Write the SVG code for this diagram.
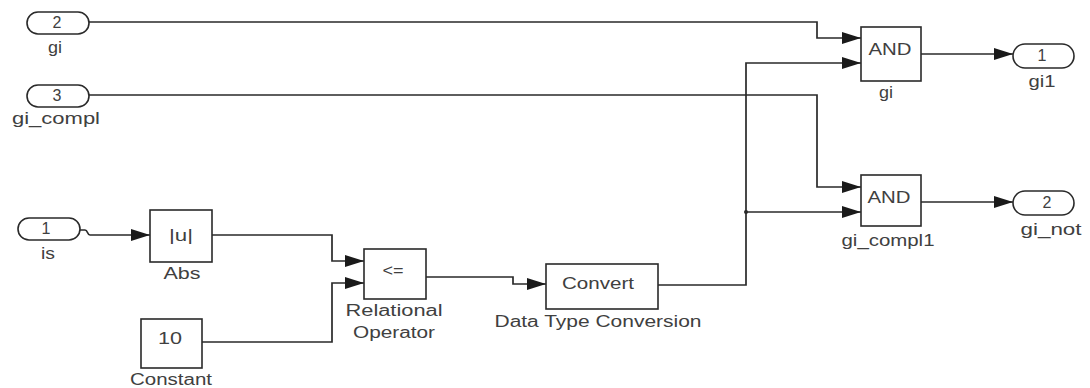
<svg xmlns="http://www.w3.org/2000/svg" width="1090" height="388" viewBox="0 0 1090 388">
  <style>
    .blk { fill: #ffffff; stroke: #2a2a2a; stroke-width: 1.6; }
    .port { fill: #ffffff; stroke: #2a2a2a; stroke-width: 1.6; }
    .wire { fill: none; stroke: #2a2a2a; stroke-width: 1.7; }
    .txt { font-family: "Liberation Sans", Arial, sans-serif; font-size: 16px; fill: #404040; text-anchor: middle; dominant-baseline: central; }
  </style>
  <defs>
    <marker id="arrow" markerUnits="userSpaceOnUse" markerWidth="19" markerHeight="12" refX="19" refY="6" orient="auto">
      <path d="M0,0 L19,6 L0,12 Z" fill="#1a1a1a"/>
    </marker>
  </defs>
  <rect width="1090" height="388" fill="#ffffff"/>

  <!-- signal lines -->
  <g id="connectors">
    <path class="wire" d="M89,22 H817 V38 H861" marker-end="url(#arrow)"/>
    <path class="wire" d="M89,95 H817 V187 H861" marker-end="url(#arrow)"/>
    <path class="wire" d="M658,285 H746 V63 H861" marker-end="url(#arrow)"/>
    <path class="wire" d="M746,212 H861" stroke="#555555" marker-end="url(#arrow)"/>
    <circle cx="746" cy="212" r="2" fill="#2a2a2a"/>
    <path class="wire" d="M921,54 H1013" marker-end="url(#arrow)"/>
    <path class="wire" d="M921,202 H1013" marker-end="url(#arrow)"/>
    <path class="wire" d="M80,230 H85 C88,230 87,235 90,235 H150" marker-end="url(#arrow)"/>
    <path class="wire" d="M212,235 H332 V261 H364" marker-end="url(#arrow)"/>
    <path class="wire" d="M202,342 H332 V283 H364" marker-end="url(#arrow)"/>
    <path class="wire" d="M426,277 H513 V284 H546" marker-end="url(#arrow)"/>
  </g>

  <!-- inports -->
  <g id="in_gi">
    <rect class="port" x="27" y="12" width="62" height="22" rx="11"/>
    <text class="txt" x="57" y="22">2</text>
    <text class="txt" x="55" y="47" textLength="14" lengthAdjust="spacingAndGlyphs">gi</text>
  </g>
  <g id="in_gi_compl">
    <rect class="port" x="27" y="85" width="62" height="22" rx="11"/>
    <text class="txt" x="57" y="95">3</text>
    <text class="txt" x="56" y="118" textLength="88" lengthAdjust="spacingAndGlyphs">gi_compl</text>
  </g>
  <g id="in_is">
    <rect class="port" x="18" y="218" width="62" height="22" rx="11"/>
    <text class="txt" x="46" y="228">1</text>
    <text class="txt" x="48" y="253" textLength="14" lengthAdjust="spacingAndGlyphs">is</text>
  </g>

  <!-- function blocks -->
  <g id="abs">
    <rect class="blk" x="150" y="210" width="62" height="52"/>
    <text class="txt" x="181" y="235" textLength="24" lengthAdjust="spacingAndGlyphs">|u|</text>
    <text class="txt" x="182" y="273" textLength="37" lengthAdjust="spacingAndGlyphs">Abs</text>
  </g>
  <g id="constant">
    <rect class="blk" x="141" y="319" width="61" height="49"/>
    <text class="txt" x="170" y="338" textLength="24" lengthAdjust="spacingAndGlyphs">10</text>
    <text class="txt" x="171" y="379" textLength="82" lengthAdjust="spacingAndGlyphs">Constant</text>
  </g>
  <g id="relational_operator">
    <rect class="blk" x="364" y="249" width="62" height="50"/>
    <text class="txt" x="393" y="270" textLength="21" lengthAdjust="spacingAndGlyphs">&lt;=</text>
    <text class="txt" x="394" y="310" textLength="97" lengthAdjust="spacingAndGlyphs">Relational</text>
    <text class="txt" x="394" y="332" textLength="82" lengthAdjust="spacingAndGlyphs">Operator</text>
  </g>
  <g id="data_type_conversion">
    <rect class="blk" x="546" y="264" width="112" height="45"/>
    <text class="txt" x="598" y="283" textLength="72" lengthAdjust="spacingAndGlyphs">Convert</text>
    <text class="txt" x="598" y="321" textLength="207" lengthAdjust="spacingAndGlyphs">Data Type Conversion</text>
  </g>
  <g id="and_gi">
    <rect class="blk" x="861" y="27" width="60" height="54"/>
    <text class="txt" x="890" y="49" textLength="43" lengthAdjust="spacingAndGlyphs">AND</text>
    <text class="txt" x="886" y="92" textLength="14" lengthAdjust="spacingAndGlyphs">gi</text>
  </g>
  <g id="and_gi_compl1">
    <rect class="blk" x="861" y="175" width="60" height="51"/>
    <text class="txt" x="889" y="197" textLength="43" lengthAdjust="spacingAndGlyphs">AND</text>
    <text class="txt" x="888" y="240" textLength="93" lengthAdjust="spacingAndGlyphs">gi_compl1</text>
  </g>

  <!-- outports -->
  <g id="out_gi1">
    <rect class="port" x="1013" y="44" width="61" height="24" rx="12"/>
    <text class="txt" x="1042" y="55">1</text>
    <text class="txt" x="1042" y="81" textLength="27" lengthAdjust="spacingAndGlyphs">gi1</text>
  </g>
  <g id="out_gi_not">
    <rect class="port" x="1013" y="191" width="61" height="24" rx="12"/>
    <text class="txt" x="1047" y="202">2</text>
    <text class="txt" x="1051" y="229" textLength="61" lengthAdjust="spacingAndGlyphs">gi_not</text>
  </g>
</svg>
